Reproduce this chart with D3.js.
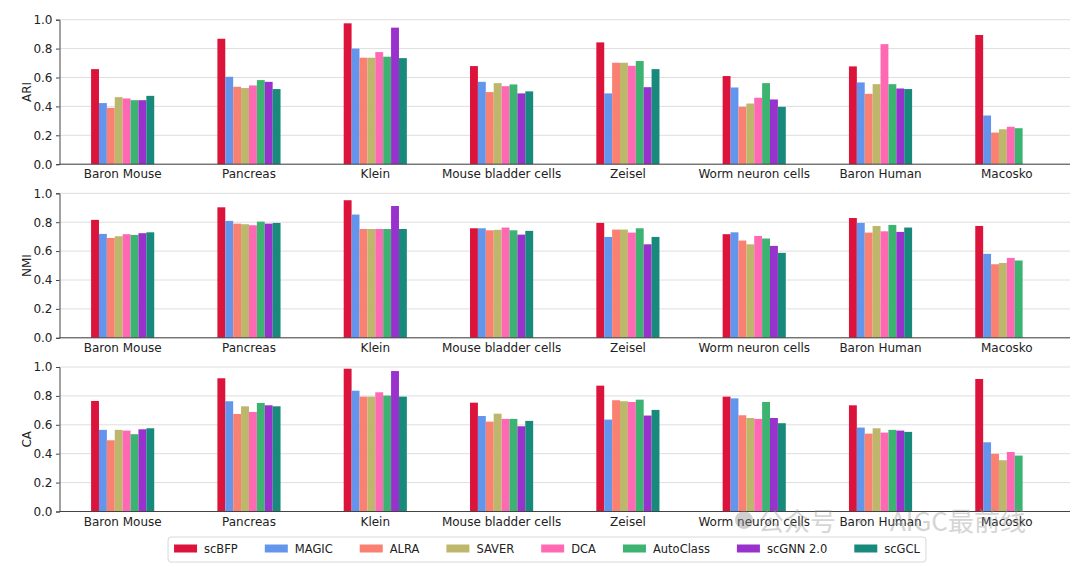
<!DOCTYPE html>
<html>
<head>
<meta charset="utf-8">
<script src="https://cdn.jsdelivr.net/npm/d3@7"></script>
<style>
  html, body { margin: 0; padding: 0; background: #fff; }
  svg { display: block; font-family: "DejaVu Sans", sans-serif; }
</style>
</head>
<body>
<svg id="chart" width="1080" height="567"></svg>
<script>
const categories = ["Baron Mouse", "Pancreas", "Klein", "Mouse bladder cells", "Zeisel", "Worm neuron cells", "Baron Human", "Macosko"];
const methods = ["scBFP", "MAGIC", "ALRA", "SAVER", "DCA", "AutoClass", "scGNN 2.0", "scGCL"];
const colors = ["#dc143c", "#6495ed", "#fa8072", "#bdb76b", "#ff69b4", "#3cb371", "#9932cc", "#178a7b"];
const metrics = ["ARI", "NMI", "CA"];
const yTicks = [0, 0.2, 0.4, 0.6, 0.8, 1.0];

// values per method, in category order (null = not reported)
const ARI = {
  "scBFP":     [0.658, 0.868, 0.975, 0.679, 0.843, 0.610, 0.677, 0.894],
  "MAGIC":     [0.423, 0.605, 0.800, 0.570, 0.490, 0.531, 0.566, 0.337],
  "ALRA":      [0.390, 0.536, 0.737, 0.499, 0.702, 0.397, 0.487, 0.219],
  "SAVER":     [0.464, 0.527, 0.737, 0.561, 0.702, 0.420, 0.554, 0.242],
  "DCA":       [0.455, 0.545, 0.776, 0.540, 0.681, 0.460, 0.831, 0.259],
  "AutoClass": [0.443, 0.582, 0.744, 0.552, 0.714, 0.561, 0.554, 0.249],
  "scGNN 2.0": [0.443, 0.570, 0.945, 0.490, 0.533, 0.448, 0.524, null],
  "scGCL":     [0.473, 0.520, 0.734, 0.504, 0.658, 0.397, 0.520, null]
};
const NMI = {
  "scBFP":     [0.816, 0.903, 0.952, 0.758, 0.795, 0.717, 0.829, 0.774],
  "MAGIC":     [0.719, 0.809, 0.853, 0.758, 0.698, 0.730, 0.795, 0.581],
  "ALRA":      [0.691, 0.790, 0.753, 0.744, 0.749, 0.673, 0.728, 0.509],
  "SAVER":     [0.703, 0.786, 0.753, 0.747, 0.749, 0.647, 0.774, 0.518],
  "DCA":       [0.717, 0.779, 0.753, 0.763, 0.728, 0.705, 0.737, 0.553],
  "AutoClass": [0.712, 0.804, 0.753, 0.744, 0.758, 0.687, 0.781, 0.535],
  "scGNN 2.0": [0.724, 0.790, 0.912, 0.714, 0.647, 0.636, 0.733, null],
  "scGCL":     [0.730, 0.795, 0.753, 0.740, 0.698, 0.588, 0.763, null]
};
const CA = {
  "scBFP":     [0.765, 0.922, 0.988, 0.753, 0.871, 0.795, 0.735, 0.917],
  "MAGIC":     [0.565, 0.763, 0.836, 0.661, 0.636, 0.783, 0.581, 0.479],
  "ALRA":      [0.493, 0.675, 0.795, 0.622, 0.770, 0.666, 0.539, 0.399],
  "SAVER":     [0.565, 0.728, 0.795, 0.677, 0.763, 0.647, 0.576, 0.355],
  "DCA":       [0.560, 0.689, 0.825, 0.641, 0.758, 0.641, 0.546, 0.412],
  "AutoClass": [0.535, 0.751, 0.802, 0.641, 0.774, 0.758, 0.565, 0.387],
  "scGNN 2.0": [0.569, 0.735, 0.972, 0.590, 0.664, 0.647, 0.560, null],
  "scGCL":     [0.576, 0.728, 0.795, 0.627, 0.703, 0.611, 0.551, null]
};
const metricData = { ARI, NMI, CA };

const svg = d3.select("#chart");
const left = 59.5, right = 1070;
const panelTops = [19.7, 193.3, 367];
const panelH = 144.5;

const x = d3.scaleBand().domain(categories).range([left, right]).paddingInner(0).paddingOuter(0);
const xm = d3.scaleBand().domain(methods).range([-x.bandwidth() / 4, x.bandwidth() / 4]).padding(0);

metrics.forEach((m, pi) => {
  const top = panelTops[pi];
  const y = d3.scaleLinear().domain([0, 1]).range([top + panelH, top]);
  const g = svg.append("g");

  // grid
  g.append("g").selectAll("line").data(yTicks).join("line")
    .attr("x1", left).attr("x2", right)
    .attr("y1", d => y(d)).attr("y2", d => y(d))
    .attr("stroke", "#dedede").attr("stroke-width", 1);

  // bars
  methods.forEach((meth, mi) => {
    const vals = metricData[m][meth];
    g.append("g").selectAll("rect")
      .data(categories.map((c, ci) => ({ c, v: vals[ci] })).filter(d => d.v != null))
      .join("rect")
      .attr("x", d => x(d.c) + x.bandwidth() / 2 + xm(meth))
      .attr("width", xm.bandwidth())
      .attr("y", d => y(d.v))
      .attr("height", d => y(0) - y(d.v))
      .attr("fill", colors[mi]);
  });

  // y axis
  const ya = g.append("g").attr("transform", `translate(${left},0)`)
    .call(d3.axisLeft(y).tickValues(yTicks).tickFormat(d3.format(".1f")).tickSize(3.5).tickPadding(3.5));
  ya.select(".domain").attr("stroke", "#444").attr("stroke-width", 1);
  ya.selectAll(".tick line").attr("stroke", "#444");
  ya.selectAll("text").attr("font-size", 12).attr("fill", "#222").attr("font-family", "DejaVu Sans");

  // bottom spine + category labels
  g.append("line").attr("x1", left).attr("x2", right)
    .attr("y1", y(0)).attr("y2", y(0)).attr("stroke", "#444").attr("stroke-width", 1);
  g.append("g").selectAll("text").data(categories).join("text")
    .attr("x", d => x(d) + x.bandwidth() / 2)
    .attr("y", y(0) + 14)
    .attr("text-anchor", "middle")
    .attr("font-size", 12).attr("fill", "#222")
    .text(d => d);

  // y label
  g.append("text")
    .attr("transform", `translate(${31},${top + panelH / 2}) rotate(-90)`)
    .attr("text-anchor", "middle")
    .attr("font-size", 12).attr("fill", "#222")
    .text(m);
});

// watermark (semi-transparent overlay in the reference)
const wm = svg.append("g").attr("opacity", 0.4);
wm.append("circle").attr("cx", 744).attr("cy", 520).attr("r", 9).attr("fill", "#888");
const wt = wm.append("text").attr("y", 531)
  .attr("font-family", "Noto Sans CJK SC").attr("font-size", 26).attr("fill", "#999");
wt.append("tspan").attr("x", 758).text("公众号");
wt.append("tspan").attr("x", 848).text("·");
wt.append("tspan").attr("x", 890).text("AIGC最前线");

// legend
const lg = svg.append("g");
const items = lg.selectAll("g").data(methods).join("g");
items.append("rect").attr("width", 23).attr("height", 8).attr("y", -8.5)
  .attr("fill", (d, i) => colors[i]);
items.append("text").attr("x", 30).attr("y", 0).attr("font-size", 11.5).attr("fill", "#222").text(d => d);
let cx = 0;
const offs = [];
items.each(function() {
  offs.push(cx);
  const w = d3.select(this).select("text").node().getComputedTextLength();
  cx += 30 + w + 27;
});
const totalW = cx - 27;
const lx = 547 - totalW / 2, ly = 553;
items.attr("transform", (d, i) => `translate(${lx + offs[i]},${ly})`);
lg.insert("rect", ":first-child")
  .attr("x", lx - 6).attr("y", ly - 16).attr("width", totalW + 12).attr("height", 25)
  .attr("rx", 3).attr("fill", "#fff").attr("fill-opacity", 0.8)
  .attr("stroke", "#d8d8d8").attr("stroke-width", 1);
</script>
</body>
</html>
